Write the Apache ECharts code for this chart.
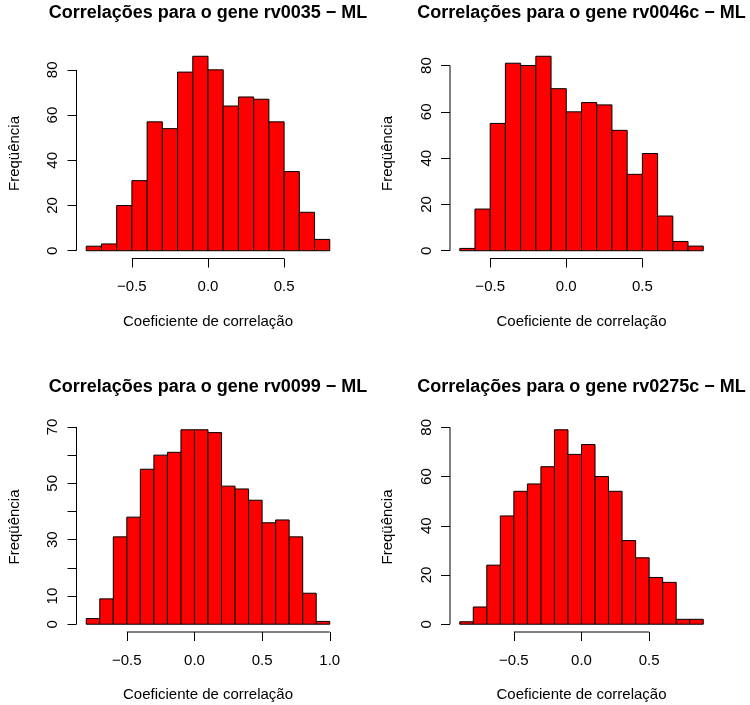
<!DOCTYPE html>
<html><head><meta charset="utf-8">
<script src="https://cdn.jsdelivr.net/npm/echarts@6/dist/echarts.min.js"></script>
<style>html,body{margin:0;padding:0;background:#fff}#c{width:750px;height:705px}</style>
</head><body><div id="c"></div>
<script>
const titles = [
  'Correlações para o gene rv0035 − ML',
  'Correlações para o gene rv0046c − ML',
  'Correlações para o gene rv0099 − ML',
  'Correlações para o gene rv0275c − ML'
];
const xName = 'Coeficiente de correlação';
const yName = 'Freqüência';

const breaks1 = [-0.8,-0.7,-0.6,-0.5,-0.4,-0.3,-0.2,-0.1,0,0.1,0.2,0.3,0.4,0.5,0.6,0.7,0.8];
const counts1 = [2,3,20,31,57,54,79,86,80,64,68,67,57,35,17,5];
const xTicks1 = [-0.5,0,0.5];
const yTicks1 = [0,20,40,60,80];
const yLabels1 = [0,20,40,60,80];

const breaks2 = [-0.7,-0.6,-0.5,-0.4,-0.3,-0.2,-0.1,0,0.1,0.2,0.3,0.4,0.5,0.6,0.7,0.8,0.9];
const counts2 = [1,18,55,81,80,84,70,60,64,63,52,33,42,15,4,2];
const xTicks2 = [-0.5,0,0.5];
const yTicks2 = [0,20,40,60,80];
const yLabels2 = [0,20,40,60,80];

const breaks3 = [-0.8,-0.7,-0.6,-0.5,-0.4,-0.3,-0.2,-0.1,0,0.1,0.2,0.3,0.4,0.5,0.6,0.7,0.8,0.9,1.0];
const counts3 = [2,9,31,38,55,60,61,69,69,68,49,48,44,36,37,31,11,1];
const xTicks3 = [-0.5,0,0.5,1.0];
const yTicks3 = [0,10,20,30,40,50,60,70];
const yLabels3 = [0,10,30,50,70];

const breaks4 = [-0.9,-0.8,-0.7,-0.6,-0.5,-0.4,-0.3,-0.2,-0.1,0,0.1,0.2,0.3,0.4,0.5,0.6,0.7,0.8,0.9];
const counts4 = [1,7,24,44,54,57,64,79,69,73,60,54,34,27,19,17,2,2];
const xTicks4 = [-0.5,0,0.5];
const yTicks4 = [0,20,40,60,80];
const yLabels4 = [0,20,40,60,80];

const panels = [
  {breaks:breaks1, counts:counts1, xTicks:xTicks1, yTicks:yTicks1, yLabels:yLabels1, title:titles[0]},
  {breaks:breaks2, counts:counts2, xTicks:xTicks2, yTicks:yTicks2, yLabels:yLabels2, title:titles[1]},
  {breaks:breaks3, counts:counts3, xTicks:xTicks3, yTicks:yTicks3, yLabels:yLabels3, title:titles[2]},
  {breaks:breaks4, counts:counts4, xTicks:xTicks4, yTicks:yTicks4, yLabels:yLabels4, title:titles[3]}
];

const L = [76.5, 450, 76.5, 450], T = [48.5, 48.5, 422, 422], W = 263, H = 210;
const FONT = '"Liberation Sans", Arial, Helvetica, sans-serif';
const grid = [], xAxis = [], yAxis = [], series = [], graphic = [];

panels.forEach((p, i) => {
  const b0 = p.breaks[0], bn = p.breaks[p.breaks.length - 1], span = bn - b0;
  const xlo = b0 - 0.04 * span, xhi = bn + 0.04 * span;
  const ymax = Math.max(...p.counts);
  const ylo = -0.04 * ymax, yhi = 1.04 * ymax;
  grid.push({left: L[i], top: T[i], width: W, height: H, containLabel: false});
  xAxis.push({
    type: 'value', gridIndex: i, min: xlo, max: xhi, position: 'bottom',
    axisLine: {show: false, onZero: false}, splitLine: {show: false},
    axisTick: {show: true, customValues: p.xTicks, length: 9, lineStyle: {color: '#000', width: 1}},
    axisLabel: {customValues: p.xTicks, margin: 21, color: '#000', fontSize: 15, fontFamily: FONT,
      formatter: v => (v < 0 ? '−' : '') + Math.abs(v).toFixed(1)}
  });
  yAxis.push({
    type: 'value', gridIndex: i, min: ylo, max: yhi, position: 'left',
    axisLine: {show: false, onZero: false}, splitLine: {show: false},
    axisTick: {show: true, customValues: p.yTicks, length: 9, lineStyle: {color: '#000', width: 1}},
    axisLabel: {customValues: p.yLabels, rotate: 90, margin: 16, color: '#000', fontSize: 15, fontFamily: FONT,
      formatter: v => String(Math.round(v))}
  });
  series.push({
    type: 'custom', xAxisIndex: i, yAxisIndex: i, silent: true,
    data: p.counts.map((c, k) => [p.breaks[k], p.breaks[k + 1], c]),
    encode: {x: [0, 1], y: 2},
    renderItem: (params, api) => {
      const a = api.coord([api.value(0), api.value(2)]);
      const b = api.coord([api.value(1), 0]);
      return {type: 'rect', shape: {x: a[0], y: a[1], width: b[0] - a[0], height: b[1] - a[1]},
        style: {fill: '#FF0000', stroke: '#000', lineWidth: 1}};
    }
  });
  series.push({
    type: 'line', xAxisIndex: i, yAxisIndex: i, silent: true, clip: false, symbol: 'none',
    data: [[p.xTicks[0], ylo], [p.xTicks[p.xTicks.length - 1], ylo]],
    lineStyle: {color: '#000', width: 1}
  });
  series.push({
    type: 'line', xAxisIndex: i, yAxisIndex: i, silent: true, clip: false, symbol: 'none',
    data: [[xlo, p.yTicks[0]], [xlo, p.yTicks[p.yTicks.length - 1]]],
    lineStyle: {color: '#000', width: 1}
  });
  const cx = L[i] + W / 2, cy = T[i] + H / 2;
  graphic.push({type: 'text', x: cx, y: T[i] - 35,
    style: {text: p.title, fontSize: 18, fontWeight: 'bold', fontFamily: FONT, fill: '#000', align: 'center', verticalAlign: 'middle'}});
  graphic.push({type: 'text', x: cx, y: T[i] + H + 63,
    style: {text: xName, fontSize: 15, fontFamily: FONT, fill: '#000', align: 'center', verticalAlign: 'middle'}});
  graphic.push({type: 'text', x: L[i] - 62, y: cy, rotation: Math.PI / 2,
    style: {text: yName, fontSize: 15, fontFamily: FONT, fill: '#000', align: 'center', verticalAlign: 'middle'}});
});

const chart = echarts.init(document.getElementById('c'), null, {renderer: 'canvas'});
chart.setOption({
  animation: false,
  backgroundColor: '#fff',
  grid, xAxis, yAxis, series, graphic
});
</script>
</body></html>
